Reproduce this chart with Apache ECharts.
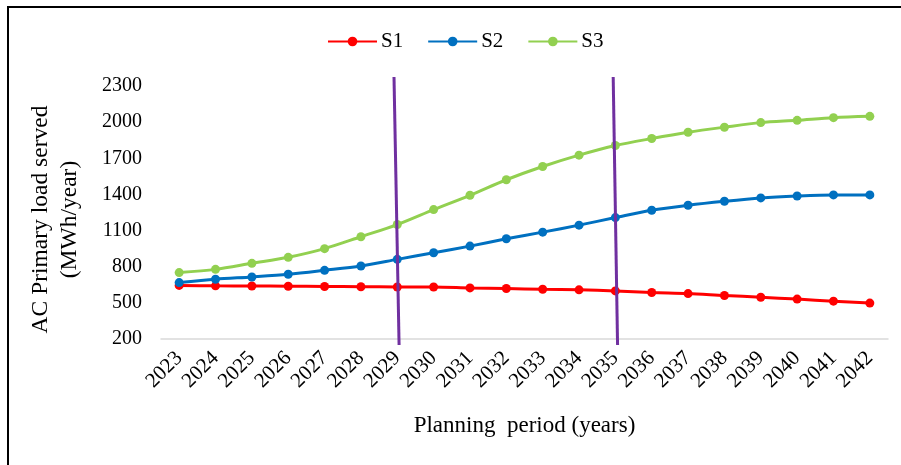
<!DOCTYPE html>
<html>
<head>
<meta charset="utf-8">
<script src="https://cdn.jsdelivr.net/npm/echarts@6/dist/echarts.min.js"></script>
<style>
html,body{margin:0;padding:0;background:#fff;}
#frame{position:absolute;left:7px;top:6px;width:920px;height:480px;border-left:2px solid #000;border-top:2px solid #000;box-sizing:border-box;}
#chart{position:absolute;left:0;top:0;width:901px;height:465px;}
</style>
</head>
<body>
<div id="frame"></div>
<div id="chart"></div>
<script>
const years = ['2023','2024','2025','2026','2027','2028','2029','2030','2031','2032','2033','2034','2035','2036','2037','2038','2039','2040','2041','2042'];
const s1 = [645,641,640,638,636,634,632,632,624,619,613,608,599,586,577,561,547,531,514,498];
const s2 = [668,696,715,737,770,806,861,916,971,1032,1087,1145,1208,1269,1310,1343,1371,1387,1396,1396];
const s3 = [751,778,828,878,950,1049,1150,1274,1393,1522,1632,1726,1806,1864,1916,1958,1996,2015,2037,2048];
const seriesNames = ['S1','S2','S3'];
// divider lines (category index position at top / bottom, value at top / bottom)
const dividerTopIdx = [5.91, 11.94];
const dividerBottomIdx = [6.05, 12.06];
const dividerTopValue = 2375;
const dividerBottomValue = 150;
const yTicks = {min:200, max:2300, interval:300};

const font = 'Liberation Serif';
const colors = ['#FF0000','#0070C0','#92D050'];
const dividerData = dividerTopIdx.map((t,i)=>[t, dividerTopValue, dividerBottomIdx[i], dividerBottomValue]);

const chart = echarts.init(document.getElementById('chart'), null, {renderer:'canvas'});
const mk = (name, data, color) => ({
  name, type:'line', data, smooth:0.3, symbol:'circle', symbolSize:9,
  lineStyle:{color, width:3}, itemStyle:{color}, z:3
});
chart.setOption({
  animation:false,
  backgroundColor:'transparent',
  legend:{
    data:seriesNames, top:31, left:327, padding:0, itemWidth:49, itemHeight:12, itemGap:24,
    textStyle:{fontFamily:font, fontSize:21, color:'#000', padding:[0,0,0,-1]}
  },
  grid:{left:161, right:13, top:86, bottom:126, containLabel:false},
  xAxis:[{
    type:'category', data:years, boundaryGap:true,
    axisLine:{lineStyle:{color:'#D9D9D9', width:1.5}},
    axisTick:{show:false},
    axisLabel:{rotate:45, fontFamily:font, fontSize:21, color:'#000', margin:16, interval:0},
    name:'Planning  period (years)', nameLocation:'middle', nameGap:75,
    nameTextStyle:{fontFamily:font, fontSize:23, color:'#000'}
  },{
    type:'value', min:-0.5, max:years.length-0.5, show:false
  }],
  yAxis:{
    type:'value', min:yTicks.min, max:yTicks.max, interval:yTicks.interval,
    axisLine:{show:false}, axisTick:{show:false}, splitLine:{show:false},
    axisLabel:{fontFamily:font, fontSize:20, color:'#000', margin:19, formatter:(v)=>String(v)},
    name:'AC Primary load served\n(MWh/year)', nameLocation:'middle', nameGap:77,
    nameTextStyle:{fontFamily:font, fontSize:23.5, color:'#000', lineHeight:29, padding:[0,0,0,-14]}
  },
  series:[
    mk(seriesNames[0], s1, colors[0]),
    mk(seriesNames[1], s2, colors[1]),
    mk(seriesNames[2], s3, colors[2]),
    {
      type:'custom', name:'divider', data:dividerData, z:5, silent:true, xAxisIndex:1,
      encode:{x:[0,2], y:[1,3]},
      renderItem:function(params, api){
        const p1 = api.coord([api.value(0), api.value(1)]);
        const p2 = api.coord([api.value(2), api.value(3)]);
        return {type:'line', shape:{x1:p1[0], y1:p1[1], x2:p2[0], y2:p2[1]},
          style:{stroke:'#7030A0', lineWidth:3}};
      }
    }
  ]
});
</script>
</body>
</html>
